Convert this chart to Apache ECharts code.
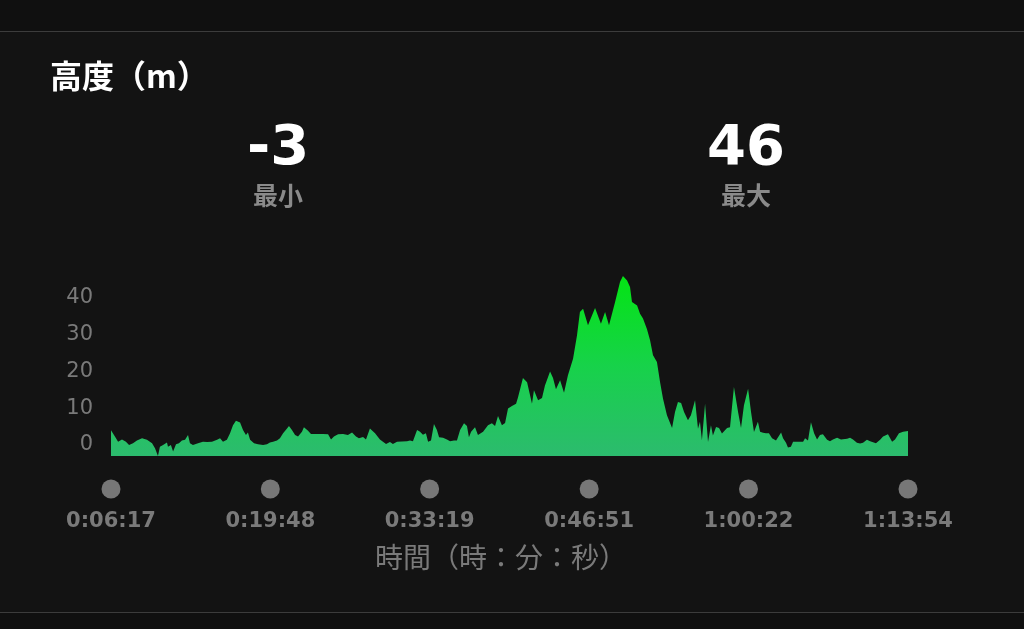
<!DOCTYPE html>
<html><head><meta charset="utf-8">
<script src="https://cdn.jsdelivr.net/npm/echarts@6/dist/echarts.min.js"></script>
<style>html,body{margin:0;padding:0;background:#131313;}#c{width:1024px;height:629px;}</style>
</head><body><div id="c"></div>
<script>
const titleText = '高度（m）';
const minLabel = '最小';
const maxLabel = '最大';
const xAxisTitle = '時間（時：分：秒）';
const xTickSeconds = [377, 1188, 1999, 2811, 3622, 4434];
const xTickLabels = ['0:06:17', '0:19:48', '0:33:19', '0:46:51', '1:00:22', '1:13:54'];
const yTicks = [0, 10, 20, 30, 40];
// [elapsed seconds, elevation m]
const samples = [
[377,4],[397,2.3],[413,0.9],[433,1.5],[453,0.9],[469,0],[489,0.5],[509,1.2],[535,1.8],[560,1.4],
[586,0.5],[601,-0.9],[616,-3],[626,-0.5],[642,0],[662,0.7],[667,-0.5],[682,0],[693,-1.8],[708,0.2],
[723,0.5],[738,1.2],[754,1.4],[769,2.7],[779,0.5],[794,0],[820,0.5],[830,0.3],[845,0.9],[866,0.8],
[891,0.9],[917,1.4],[932,1.8],[947,0.9],[967,1.4],[983,3.2],[998,5.4],[1013,6.6],[1034,6.1],[1049,4.1],
[1064,2.7],[1074,3.4],[1085,1.4],[1095,1.0],[1105,0.5],[1115,0.8],[1125,0.2],[1135,0.5],[1151,0],[1171,0.2],
[1186,0.7],[1202,0.9],[1222,1.2],[1237,1.8],[1253,3.2],[1273,4.5],[1283,5.2],[1298,4.1],[1314,2.7],[1329,2.3],
[1349,3.6],[1359,4.8],[1380,3.9],[1395,3.0],[1426,3.0],[1456,3.0],[1482,2.9],[1497,1.5],[1512,2.3],[1533,2.9],
[1558,3.0],[1583,2.7],[1604,3.4],[1624,2.3],[1639,1.8],[1660,2.2],[1675,1.5],[1695,4.5],[1721,3.2],[1746,1.5],
[1777,0.3],[1797,0.8],[1812,0.3],[1833,0.9],[1884,1.0],[1899,1.2],[1914,1.0],[1935,4.1],[1950,3.6],[1965,2.8],
[1980,3.2],[1991,0.9],[2006,1.2],[2021,5.7],[2036,4.1],[2047,2.1],[2067,2.0],[2087,1.5],[2103,1.0],[2123,1.2],
[2138,1.2],[2154,4.1],[2174,5.9],[2189,5.2],[2199,2.1],[2210,3.6],[2230,4.8],[2245,2.7],[2271,3.6],[2296,5.4],
[2316,5.9],[2332,5.2],[2347,7.9],[2367,5.4],[2383,6.0],[2398,9.9],[2418,10.6],[2439,11.2],[2449,13],[2474,18.2],
[2495,17.1],[2520,11.2],[2530,14.9],[2551,12.2],[2571,12.8],[2586,16.2],[2612,20],[2627,18.2],[2642,15.2],[2663,17.6],
[2683,14.2],[2703,19],[2729,23.5],[2749,29.8],[2764,36.2],[2780,37.1],[2805,32.6],[2841,37.3],[2871,33],[2892,36.2],
[2912,32.6],[2943,38.9],[2968,44.4],[2983,46],[3004,44.8],[3019,43],[3029,38.9],[3039,38.5],[3055,38],[3070,35.7],
[3085,34.4],[3105,31.6],[3121,28.5],[3136,24.4],[3156,22.6],[3172,17.1],[3187,12.6],[3207,8.1],[3233,4.6],[3248,9],
[3263,11.7],[3279,11.4],[3294,9],[3314,6.7],[3329,8.1],[3350,12.2],[3365,4.4],[3375,6.3],[3385,1.3],[3401,11.2],
[3416,0.8],[3431,5.4],[3441,2.6],[3457,4.9],[3472,4.6],[3487,3.1],[3513,4.6],[3528,4.8],[3548,15.8],[3569,9],
[3584,4.6],[3599,10.8],[3620,15.3],[3635,9],[3650,3.5],[3670,6.3],[3681,3.6],[3696,3.3],[3711,3.2],[3726,3.2],
[3742,1.8],[3762,1.2],[3772,1.3],[3788,3.4],[3798,1.8],[3813,0.6],[3823,-0.7],[3838,-0.5],[3849,0.9],[3874,0.9],
[3900,0.9],[3910,1.8],[3925,1.2],[3940,6.2],[3956,3.2],[3971,1.5],[3986,2.7],[4001,2.9],[4022,1.4],[4037,1.0],
[4052,1.5],[4073,2.0],[4093,1.5],[4103,2.0],[4124,1.7],[4139,2.0],[4154,1.5],[4174,0.6],[4190,0.4],[4205,0.6],
[4225,1.4],[4241,1.0],[4251,1.5],[4271,0.5],[4292,1.4],[4307,2.3],[4332,2.9],[4353,0.9],[4368,1.5],[4388,3.2],
[4409,3.6],[4434,3.8]
];

const elevs = samples.map(s => s[1]);
const minV = Math.round(Math.min(...elevs));
const maxV = Math.round(Math.max(...elevs));

const chart = echarts.init(document.getElementById('c'));
const numFont = '"DejaVu Sans", "Noto Sans CJK JP", sans-serif';
const cjkFont = '"Noto Sans CJK JP", sans-serif';
chart.setOption({
  backgroundColor: '#131313',
  animation: false,
  grid: { left: 111, right: 116, top: 276, bottom: 173 },
  graphic: [
    { type: 'rect', shape: { x: 0, y: 0, width: 1024, height: 31 }, style: { fill: '#101010' }, silent: true },
    { type: 'line', shape: { x1: 0, y1: 31.5, x2: 1024, y2: 31.5 }, style: { stroke: '#3c3c3c', lineWidth: 1 }, silent: true },
    { type: 'line', shape: { x1: 0, y1: 612.5, x2: 1024, y2: 612.5 }, style: { stroke: '#3c3c3c', lineWidth: 1 }, silent: true },
    { type: 'rect', shape: { x: 0, y: 613, width: 1024, height: 16 }, style: { fill: '#101010' }, silent: true },
    { type: 'text', x: 50, y: 76, style: { text: titleText, fill: '#ffffff', font: 'bold 32px ' + cjkFont, verticalAlign: 'middle' } },
    { type: 'text', x: 278, y: 149, style: { text: String(minV), fill: '#ffffff', font: 'bold 56px ' + numFont, align: 'center', verticalAlign: 'middle' } },
    { type: 'text', x: 278, y: 195, style: { text: minLabel, fill: '#8a8a8a', font: 'bold 25px ' + cjkFont, align: 'center', verticalAlign: 'middle' } },
    { type: 'text', x: 746, y: 149, style: { text: String(maxV), fill: '#ffffff', font: 'bold 56px ' + numFont, align: 'center', verticalAlign: 'middle' } },
    { type: 'text', x: 746, y: 195, style: { text: maxLabel, fill: '#8a8a8a', font: 'bold 25px ' + cjkFont, align: 'center', verticalAlign: 'middle' } },
    { type: 'text', x: 501, y: 557, style: { text: xAxisTitle, fill: '#7a7a7a', font: '28px ' + cjkFont, align: 'center', verticalAlign: 'middle' } }
  ],
  xAxis: {
    type: 'value', min: 377, max: 4434,
    axisLine: { show: false }, axisTick: { show: false }, splitLine: { show: false },
    axisLabel: {
      customValues: xTickSeconds,
      margin: 23,
      formatter: (v) => { const i = xTickSeconds.indexOf(v); return '{d| }\n{t|' + (i >= 0 ? xTickLabels[i] : '') + '}'; },
      rich: {
        d: { width: 19, height: 19, borderRadius: 10, backgroundColor: '#777777', lineHeight: 20 },
        t: { color: '#7a7a7a', fontSize: 21, fontWeight: 'bold', fontFamily: numFont, lineHeight: 46 }
      }
    }
  },
  yAxis: {
    type: 'value', min: -3, max: 46,
    axisLine: { show: false }, axisTick: { show: false }, splitLine: { show: false },
    axisLabel: { customValues: yTicks, color: '#7a7a7a', fontSize: 21, fontFamily: numFont, margin: 18 }
  },
  series: [{
    type: 'line', data: samples, symbol: 'none', showSymbol: false,
    lineStyle: { width: 0 },
    areaStyle: {
      origin: 'start',
      opacity: 1,
      color: new echarts.graphic.LinearGradient(0, 0, 0, 1, [
        { offset: 0, color: '#04e414' },
        { offset: 0.5, color: '#17d24a' },
        { offset: 1, color: '#2cbb6e' }
      ])
    }
  }]
});
</script></body></html>
